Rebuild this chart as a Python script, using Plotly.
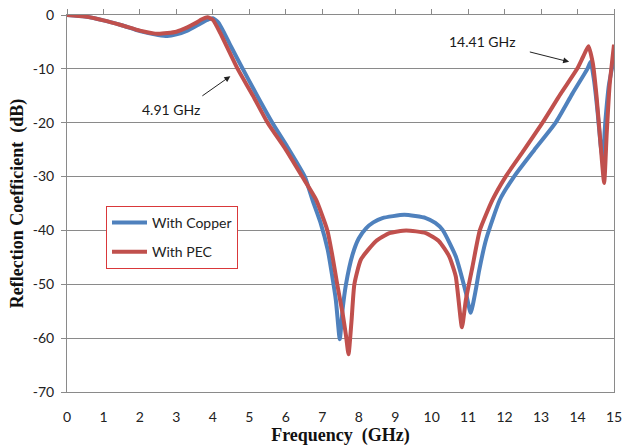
import plotly.graph_objects as go

# ---- data ----
copper_f = [0, 0.5, 1.0, 1.5, 2.0, 2.5, 2.75, 3.0, 3.3, 3.6, 3.85, 4.0, 4.15, 4.3, 4.5,
            4.82, 5.2, 5.63, 6.0, 6.52, 6.73, 6.95, 7.15, 7.37, 7.48, 7.56, 7.65, 7.83,
            8.0, 8.2, 8.4, 8.65, 9.25, 9.84, 10.1, 10.3, 10.66, 10.94, 11.07, 11.21,
            11.3, 11.5, 11.87, 12.26, 12.81, 13.4, 13.86, 14.27, 14.36, 14.45, 14.55,
            14.63, 14.69, 14.76, 14.86, 15.0]
copper_db = [0, -0.3, -1.0, -1.9, -3.0, -3.7, -3.9, -3.6, -2.9, -1.8, -0.9, -0.6, -1.4,
             -3.2, -5.9, -10, -14.8, -20, -24, -30, -34.3, -38.5, -43.6, -52.8, -60.2,
             -54.5, -50, -44.5, -41.5, -39.6, -38.5, -37.7, -37.1, -37.7, -38.6, -39.9,
             -44.8, -51.6, -55.3, -51, -47.5, -41.5, -34.3, -30, -25.1, -20, -14.6, -10,
             -8.7, -12, -18, -24, -27, -20, -13, -8]

pec_f = [0, 0.5, 1.0, 1.5, 2.0, 2.5, 3.0, 3.3, 3.5, 3.7, 3.85, 4.0, 4.2, 4.4, 4.68,
         5.1, 5.5, 6.0, 6.45, 6.83, 7.14, 7.28, 7.41, 7.56, 7.65, 7.72, 7.8, 7.88, 8.06,
         8.47, 8.84, 9.3, 9.84, 10.2, 10.48, 10.66, 10.83, 10.94, 11.12, 11.32, 11.67,
         12.03, 12.53, 13.04, 13.54, 13.99, 14.15, 14.3, 14.42, 14.52, 14.62, 14.73,
         14.8, 14.88, 15.0]
pec_db = [0, -0.3, -1.0, -1.9, -2.9, -3.5, -3.1, -2.3, -1.6, -0.8, -0.4, -0.9, -3.3,
          -6.1, -10, -15, -20, -25, -30, -34.3, -40, -44.8, -50, -55.5, -59.5, -63,
          -57, -50, -45.4, -42, -40.5, -40, -40.5, -42, -44.8, -48.5, -58, -52.8, -46.7,
          -40, -34.3, -30, -25.1, -20, -14.6, -10, -7.8, -5.8, -9, -15, -23, -31.2, -22,
          -13, -5.5]

series_names = ["With Copper", "With PEC"]
x_ticks = list(range(0, 16))
y_ticks = list(range(-70, 1, 10))

ann_texts = ["4.91 GHz", "14.41 GHz"]
ann_text_pos = [(2.86, -17.46), (11.37, -5.0)]
ann_arrow_tail = [(3.63, -15.4), (12.61, -6.72)]
ann_arrow_tip = [(4.48, -11.35), (13.77, -8.7)]

BLUE = "#4F81BD"
RED = "#C0504D"
GRID = "#8a8a8a"
FONT = "Lato"

fig = go.Figure()
fig.add_trace(go.Scatter(x=copper_f, y=copper_db, mode="lines", name=series_names[0],
                         line=dict(color=BLUE, width=4, shape="spline", smoothing=0.5),
                         legendgroup="a"))
fig.add_trace(go.Scatter(x=pec_f, y=pec_db, mode="lines", name=series_names[1],
                         line=dict(color=RED, width=4, shape="spline", smoothing=0.5),
                         legendgroup="b"))
# invisible trace to activate the top tick axis
fig.add_trace(go.Scatter(x=[0, 15], y=[None, None], xaxis="x2", mode="lines",
                         showlegend=False, hoverinfo="skip"))

for txt, (tx, ty) in zip(ann_texts, ann_text_pos):
    fig.add_annotation(x=tx, y=ty, text=txt, showarrow=False,
                       font=dict(family=FONT, size=14, color="#1a1a1a"))
for (ax_, ay_), (hx, hy) in zip(ann_arrow_tail, ann_arrow_tip):
    fig.add_annotation(x=hx, y=hy, ax=ax_, ay=ay_, axref="x", ayref="y", text=" ",
                       showarrow=True, arrowhead=2, arrowsize=1.2, arrowwidth=1,
                       arrowcolor="#222222", standoff=0, startstandoff=0)

fig.update_layout(
    width=624, height=446,
    template="none",
    paper_bgcolor="white", plot_bgcolor="white",
    margin=dict(l=67, r=10, t=15, b=54),
    font=dict(family=FONT, size=13, color="#222222"),
    showlegend=True,
    legend=dict(x=0.0713, y=0.4934, xanchor="left", yanchor="top",
                bgcolor="white", bordercolor="#d9383a", borderwidth=1,
                font=dict(family=FONT, size=14, color="#222222"),
                tracegroupgap=8, itemwidth=35),
    xaxis=dict(range=[0, 15], tickvals=x_ticks, ticktext=[str(v) for v in x_ticks],
               showgrid=False, zeroline=False, showline=True, linecolor=GRID,
               linewidth=1, mirror=True, ticks="outside", ticklen=12,
               tickcolor="rgba(0,0,0,0)",
               tickfont=dict(family=FONT, size=14, color="#222222"),
               title=dict(text="<b>Frequency  (GHz)</b>",
                          font=dict(family="Liberation Serif", size=18, color="#111111"),
                          standoff=2)),
    xaxis2=dict(range=[0, 15], overlaying="x", side="top", tickvals=x_ticks,
                showticklabels=False, ticks="outside", ticklen=5, tickcolor=GRID,
                showgrid=False, zeroline=False, showline=False),
    yaxis=dict(range=[-70, 0], tickvals=y_ticks, ticktext=[str(v) for v in y_ticks],
               showgrid=True, gridcolor=GRID, gridwidth=1, zeroline=False,
               showline=True, linecolor=GRID, linewidth=1, mirror=True,
               ticks="outside", ticklen=5, tickcolor=GRID, ticklabelstandoff=4,
               tickfont=dict(family=FONT, size=14, color="#222222"),
               title=dict(text="<b>Reflection Coefficient  (dB)</b>",
                          font=dict(family="Liberation Serif", size=18, color="#111111"),
                          standoff=4)),
)

fig.write_html("out.html")
